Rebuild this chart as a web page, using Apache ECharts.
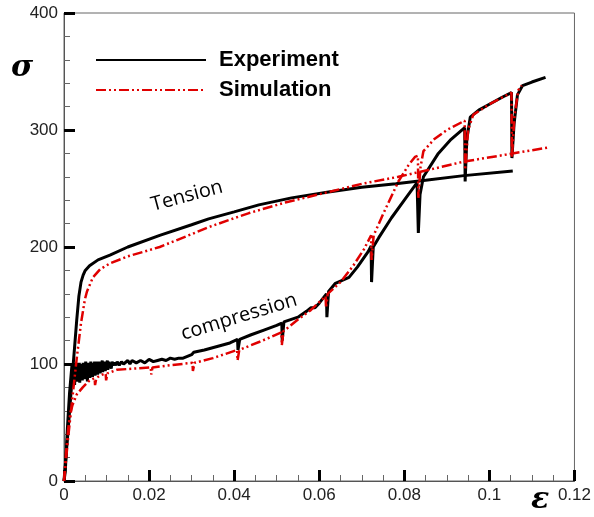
<!DOCTYPE html>
<html>
<head>
<meta charset="utf-8">
<script src="https://cdn.jsdelivr.net/npm/echarts@6/dist/echarts.min.js"></script>
<style>html,body{margin:0;padding:0;background:#fff}#c{width:594px;height:517px}</style>
</head>
<body>
<div id="c"></div>
<script>
// ---- data: [strain, stress] ----
const xTicks = [0, 0.02, 0.04, 0.06, 0.08, 0.1, 0.12];
const yTicks = [0, 100, 200, 300, 400];

const expTension = [[0,0],[0.001,45],[0.002,92],[0.003,138],[0.0035,158],[0.004,170],[0.0045,176],[0.005,180],[0.006,184],[0.008,189],[0.0108,193],[0.015,200],[0.0225,210],[0.03,219],[0.034,224],[0.04,230],[0.0458,236],[0.0535,242],[0.0622,247],[0.07,251],[0.078,254],[0.085,257],[0.094,261],[0.1055,265]];

const expCompression = [[0,0],[0.0003,8],[0.0008,45],[0.0013,75],[0.0017,92],[0.0019,100],
[0.0021,84],[0.0023,99],[0.0025,82],[0.0026,100],[0.0028,88],[0.0030,101],[0.0031,85],[0.0033,97],[0.0034,90],[0.0036,101],[0.0037,84],[0.0039,99],[0.0040,92],[0.0042,100],[0.0043,86],[0.0045,101],[0.0046,93],[0.0048,99],[0.0049,87],[0.0051,102],[0.0052,91],[0.0054,100],[0.0055,85],[0.0057,101],[0.0058,94],[0.0060,100],[0.0061,88],[0.0063,102],[0.0064,92],[0.0066,99],[0.0067,89],[0.0069,101],[0.0070,95],[0.0072,102],[0.0073,90],[0.0075,100],[0.0076,94],[0.0078,102],[0.0079,91],[0.0081,101],[0.0082,96],[0.0084,102],[0.0085,92],[0.0087,101],[0.0088,97],[0.0090,103],[0.0091,93],[0.0093,101],[0.0094,97],[0.0096,102],[0.0097,94],[0.0099,101],[0.0100,98],[0.0102,103],[0.0103,95],[0.0105,102],[0.0107,98],[0.0109,101],[0.0111,96],[0.0113,102],[0.0115,99],[0.0118,101],
[0.0122,99],[0.0125,102],[0.013,99],[0.0135,102],[0.014,100],[0.015,103],[0.0155,100],[0.016,103],[0.017,101],[0.018,103],[0.019,101],[0.02,104],[0.021,102],[0.022,103],[0.023,104],[0.024,103],[0.025,105],[0.026,104],[0.027,105],[0.028,105],
[0.030,108],[0.0305,110],[0.033,112],[0.036,115],[0.039,118],[0.0408,121],[0.0409,112],[0.0413,121],[0.044,125],[0.047,129],[0.050,133],[0.0512,135],[0.0513,120],[0.0517,136],[0.055,140],[0.057,145],[0.058,148],[0.059,148],[0.060,152],[0.0617,160],[0.0618,140],[0.0622,162],[0.0638,169],[0.067,174],[0.069,183],[0.0715,196],[0.0722,201],[0.0723,170],[0.0727,200],[0.074,208],[0.077,225],[0.080,240],[0.083,255],[0.0833,212],[0.0837,245],[0.0845,260],[0.088,280],[0.091,292],[0.0942,302],[0.0943,256],[0.0947,292],[0.0955,311],[0.0975,317],[0.100,322],[0.103,328],[0.1052,332],[0.1053,276],[0.1058,305],[0.1066,330],[0.1078,338],[0.110,341],[0.1132,345]];

const simTension = [[0,0],[0.001,38],[0.002,72],[0.003,105],[0.004,135],[0.0049,155],[0.0054,162],[0.0068,174],[0.0085,181],[0.0108,186],[0.015,192],[0.0225,200],[0.03,211],[0.034,217],[0.0435,229],[0.052,238],[0.0622,247],[0.07,254],[0.0786,260],[0.087,267],[0.094,273],[0.104,279],[0.1137,285]];

const simCompression = [[0,0],[0.0005,25],[0.001,45],[0.0015,58],[0.002,65],[0.003,74],[0.0044,80],[0.006,86],[0.0072,88],[0.0073,82],[0.0076,88],[0.0084,90],[0.0098,92],[0.0099,86],[0.0102,92],[0.0124,95],[0.016,96],[0.0204,97],[0.0205,91],[0.0208,97],[0.025,99],[0.0302,101],[0.0303,94],[0.0307,101],[0.035,105],[0.0407,112],[0.0408,103],[0.0412,112],[0.046,119],[0.0511,127],[0.0512,116],[0.0516,128],[0.055,138],[0.058,146],[0.0615,158],[0.0616,148],[0.062,160],[0.065,170],[0.068,184],[0.0705,198],[0.0722,210],[0.0723,189],[0.0728,210],[0.075,228],[0.0786,256],[0.081,270],[0.0825,277],[0.0832,278],[0.0833,242],[0.0838,268],[0.0845,282],[0.087,292],[0.090,300],[0.0942,308],[0.0943,266],[0.0950,300],[0.0962,313],[0.100,322],[0.1052,332],[0.1053,277],[0.1059,312],[0.1068,334],[0.1076,338]];

const seriesNames = ['Experiment', 'Simulation'];

const chart = echarts.init(document.getElementById('c'), null, {renderer: 'canvas'});
const black = '#000000', red = '#e00000';
const dashDot = [10, 3, 2, 3, 2, 3];
function fmt(v){ return v === 0 ? '0' : String(+v.toFixed(2)); }

chart.setOption({
  animation: false,
  backgroundColor: '#fff',
  grid: {left: 64, right: 17, top: 13, bottom: 36, show: true, borderColor: '#666', borderWidth: 1},
  legend: {
    orient: 'vertical', left: 90, top: 44, itemWidth: 110, itemHeight: 14, itemGap: 8,
    data: seriesNames,
    itemStyle: {opacity: 0},
    textStyle: {fontFamily: 'Liberation Sans, Arial', fontWeight: 'bold', fontSize: 22, color: '#000', padding: [0, 0, 0, 8]}
  },
  xAxis: {
    type: 'value', min: xTicks[0], max: xTicks[xTicks.length - 1], interval: 0.02,
    axisLine: {onZero: false, lineStyle: {color: '#555', width: 1}},
    axisTick: {inside: true, length: 11, lineStyle: {color: '#000', width: 3}},
    minorTick: {show: true, splitNumber: 4, length: 6, lineStyle: {color: '#666', width: 1}},
    splitLine: {show: false},
    axisLabel: {formatter: fmt, fontFamily: 'Liberation Sans, Arial', fontSize: 17, color: '#222', margin: 6}
  },
  yAxis: {
    type: 'value', min: yTicks[0], max: yTicks[yTicks.length - 1], interval: 100,
    axisLine: {show: true, onZero: false, lineStyle: {color: '#555', width: 1}},
    axisTick: {show: true, inside: true, length: 11, lineStyle: {color: '#000', width: 3}},
    minorTick: {show: true, splitNumber: 5, length: 6, lineStyle: {color: '#666', width: 1}},
    splitLine: {show: false},
    axisLabel: {fontFamily: 'Liberation Sans, Arial', fontSize: 17, color: '#222', margin: 6}
  },
  series: [
    {name: 'Experiment', type: 'line', data: expTension, symbol: 'none', lineStyle: {color: black, width: 3}, itemStyle: {color: black}},
    {name: 'Experiment', type: 'line', data: expCompression, symbol: 'none', lineStyle: {color: black, width: 3}, itemStyle: {color: black}},
    {name: 'Simulation', type: 'line', data: simTension, symbol: 'none', lineStyle: {color: red, width: 2.5, type: dashDot}, itemStyle: {color: red}},
    {name: 'Simulation', type: 'line', data: simCompression, symbol: 'none', lineStyle: {color: red, width: 2.5, type: dashDot}, itemStyle: {color: red}}
  ],
  graphic: [
    {type: 'text', left: 11, top: 53, style: {text: 'σ', font: 'italic bold 30px "DejaVu Serif"', fill: '#000'}},
    {type: 'text', left: 531, top: 485, style: {text: 'ε', font: 'italic bold 30px "DejaVu Serif"', fill: '#000'}},
    {type: 'text', x: 187, y: 196, rotation: 15 * Math.PI / 180, style: {text: 'Tension', font: '20px "Open Sans"', fill: '#000', align: 'center', verticalAlign: 'middle'}},
    {type: 'text', x: 239, y: 317, rotation: 17 * Math.PI / 180, style: {text: 'compression', font: '20px "Open Sans"', fill: '#000', align: 'center', verticalAlign: 'middle'}}
  ]
});
</script>
</body>
</html>
